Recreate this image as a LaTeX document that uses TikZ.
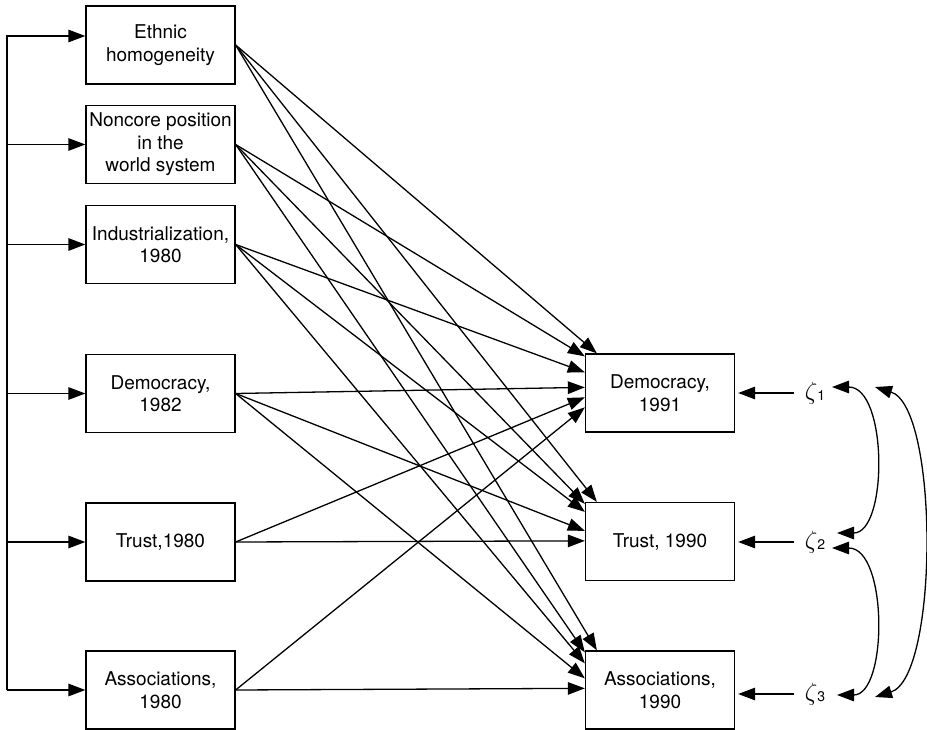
\documentclass[tikz,border=0pt]{standalone}
\usepackage{fontspec}
\setmainfont{TeX Gyre Heros}
\usetikzlibrary{arrows.meta}

\begin{document}
\begin{tikzpicture}
[x=1pt,y=-1pt,line width=1.3pt,font=\fontsize{19}{22.5}\selectfont]
\tikzset{box/.style={draw,align=center,minimum width=149pt,minimum height=78pt,inner sep=2pt}}
\tikzset{arr/.style={-{Triangle[length=17pt,width=12.5pt]}}}
\tikzset{both/.style={{Triangle[length=17pt,width=12.5pt]}-{Triangle[length=17pt,width=12.5pt]}}}
\tikzset{zeta/.style={inner ysep=1pt,inner xsep=10pt,font=\fontsize{23}{23}\selectfont}}
\useasboundingbox (0,0) rectangle (927,730);
% exogenous variables
\node [box] (eth) at (160.5,45) {Ethnic\\homogeneity};
\node [box] (nonc) at (160.5,144.5) {Noncore position\\in the\\world system};
\node [box] (ind) at (160.5,244.5) {Industrialization,\\1980};
\node [box] (dem82) at (160.5,393.5) {Democracy,\\1982};
\node [box] (tr80) at (160.5,542) {Trust,1980};
\node [box] (as80) at (160.5,690) {Associations,\\1980};
% endogenous variables
\node [box] (dem91) at (660,393) {Democracy,\\1991};
\node [box] (tr90) at (660,541.5) {Trust, 1990};
\node [box] (as90) at (660,690) {Associations,\\1990};
% disturbances
\node [zeta] (z1) at (815,393) {$\zeta$\raisebox{-1pt}{\fontsize{14}{14}\selectfont 1}};
\node [zeta] (z2) at (815,542) {$\zeta$\raisebox{-1pt}{\fontsize{14}{14}\selectfont 2}};
\node [zeta] (z3) at (815,694) {$\zeta$\raisebox{-1pt}{\fontsize{14}{14}\selectfont 3}};

% correlations among exogenous variables
\coordinate (bustop) at (7,36);
\coordinate (busbot) at (7,690);
\draw [arr] (busbot) -- (bustop) -- ([yshift=9pt]eth.west);
\draw [arr] (busbot) -- (as80.west);
\foreach \n in {nonc,ind,dem82,tr80}
	\draw [arr] (bustop |- \n.west) -- (\n.west);

% paths
\foreach \from/\to/\dx/\dy in {eth/dem91/12/0,nonc/dem91/0/-3,ind/dem91/0/-19,dem82/dem91/0/-34,tr80/dem91/0/-44,as80/dem91/0/-54,
	eth/tr90/12/0,nonc/tr90/0/-2,ind/tr90/0/-10,dem82/tr90/0/-29,tr80/tr90/0/-39,
	eth/as90/12/0,nonc/as90/0/-2,ind/as90/0/-13,dem82/as90/0/-28,as80/as90/0/-38}
	\draw [arr] (\from.east) -- ([xshift=\dx pt,yshift=\dy pt]\to.north west);

% disturbance terms
\foreach \z/\b in {z1/dem91,z2/tr90,z3/as90}
	\draw [arr,shorten >=3pt] (\z.west) -- (\z.west -| \b.east);
\draw [both] ([xshift=17pt,yshift=6pt]z1.center) .. controls +(56pt,0pt) and +(51pt,0pt) .. ([xshift=22pt,yshift=9pt]z2.center);
\draw [both] ([xshift=17pt,yshift=-6pt]z2.center) .. controls +(56pt,0pt) and +(51pt,0pt) .. ([xshift=22pt,yshift=-1pt]z3.center);
\draw [both] ([xshift=60pt,yshift=6pt]z1.center) .. controls +(64pt,-20pt) and +(64pt,20pt) .. ([xshift=60pt,yshift=-3pt]z3.center);
\end{tikzpicture}
\end{document}
